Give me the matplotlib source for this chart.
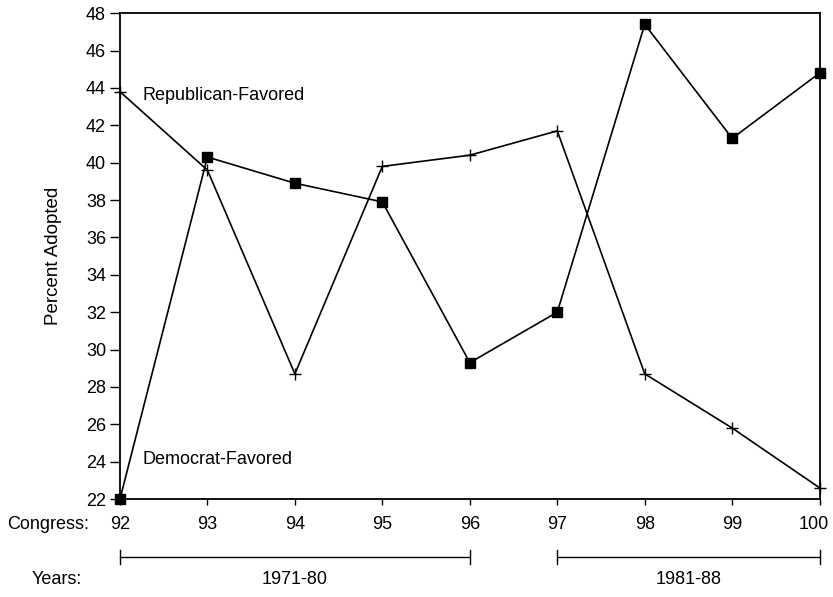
import matplotlib.pyplot as plt
import matplotlib.transforms as mtransforms

plt.rcParams['font.family'] = ['Liberation Sans', 'DejaVu Sans']

# data
congress = [92, 93, 94, 95, 96, 97, 98, 99, 100]
republican_favored = [43.8, 39.6, 28.7, 39.8, 40.4, 41.7, 28.7, 25.8, 22.6]
democrat_favored = [22.0, 40.3, 38.9, 37.9, 29.3, 32.0, 47.4, 41.3, 44.8]

year_periods = ['1971-80', '1981-88']
period_spans = [(92, 96), (97, 100)]

fig = plt.figure(figsize=(8.33, 5.97), dpi=100)
ax = fig.add_axes([0.144, 0.164, 0.840, 0.814])

ax.plot(congress, republican_favored, color='black', linewidth=1.2,
        marker='+', markersize=8, markeredgewidth=1.0, clip_on=False)
ax.plot(congress, democrat_favored, color='black', linewidth=1.2,
        marker='s', markersize=7, clip_on=False, zorder=3)

ax.set_xlim(92, 100)
ax.set_ylim(22, 48)
ax.set_yticks(range(22, 49, 2))
ax.set_xticks(congress)
ax.tick_params(axis='y', direction='out', length=7, width=1, labelsize=13, pad=3)
ax.tick_params(axis='x', direction='out', length=4, width=1, labelsize=13, pad=8)
for sp in ax.spines.values():
    sp.set_linewidth(1.3)

# last tick label sits at the figure edge, nudge it left a bit
last = ax.get_xticklabels()[-1]
last.set_transform(last.get_transform() +
                   mtransforms.ScaledTranslation(-6 / 100, 0, fig.dpi_scale_trans))

ax.set_ylabel('Percent Adopted', fontsize=13.5)
ax.yaxis.set_label_coords(-0.083, 0.5)

ax.text(92.26, 43.6, 'Republican-Favored', fontsize=13, va='center', ha='left')
ax.text(92.26, 24.1, 'Democrat-Favored', fontsize=13, va='center', ha='left')

# labels and year brackets below the axis
fig.text(0.058, 0.121, 'Congress:', fontsize=13, ha='center', va='center')
fig.text(0.068, 0.030, 'Years:', fontsize=13, ha='center', va='center')

trans = mtransforms.blended_transform_factory(ax.transData, fig.transFigure)
bracket_y = 0.067
cap = 0.011
for label, (x0, x1) in zip(year_periods, period_spans):
    ax.plot([x0, x1], [bracket_y, bracket_y], color='black', linewidth=1.0,
            transform=trans, clip_on=False)
    for xx in (x0, x1):
        ax.plot([xx, xx], [bracket_y - cap, bracket_y + cap], color='black',
                linewidth=1.0, transform=trans, clip_on=False)
    ax.text((x0 + x1) / 2, 0.030, label, fontsize=13, ha='center', va='center',
            transform=trans)

fig.savefig('out.png', dpi=100)
